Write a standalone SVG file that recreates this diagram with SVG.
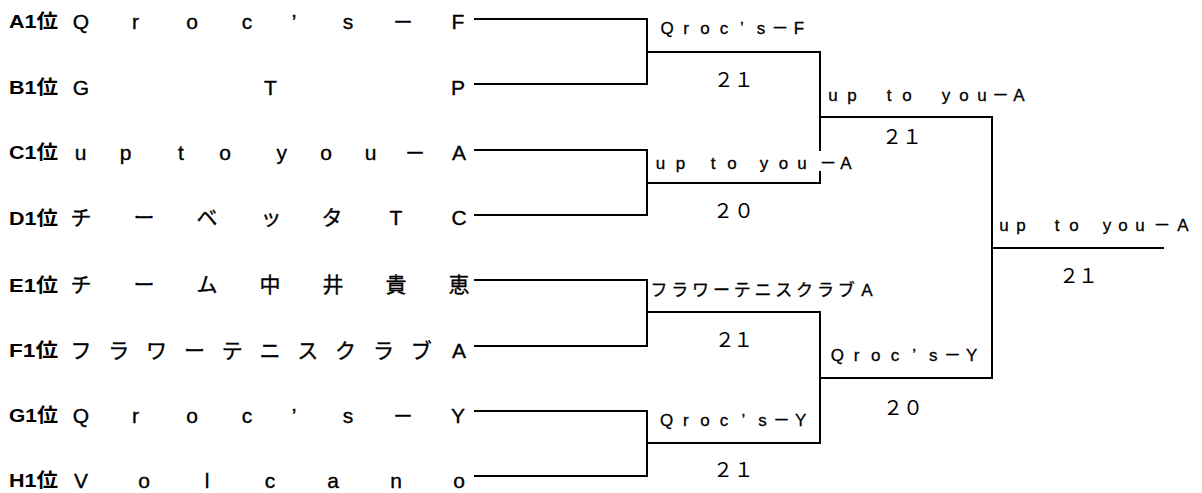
<svg xmlns="http://www.w3.org/2000/svg" width="1202" height="493" viewBox="0 0 1202 493">
<style>
.seed{font-family:"Liberation Sans","Noto Sans CJK JP",sans-serif;font-weight:bold;font-size:19px;fill:#000}
.name{font-family:"Liberation Sans","Noto Sans CJK JP","Noto Sans CJK SC",sans-serif;font-size:21px;fill:#000;stroke:#000;stroke-width:0.35;text-anchor:middle}
.win{font-family:"Liberation Sans","Noto Sans CJK JP","Noto Sans CJK SC",sans-serif;font-size:17px;fill:#000;stroke:#000;stroke-width:0.3;text-anchor:middle}
.score{font-family:"Noto Sans CJK JP","Noto Sans CJK SC",sans-serif;font-size:20px;fill:#000;text-anchor:middle}
.ln{fill:none;stroke:#000;stroke-width:2}
</style>
<rect width="1202" height="493" fill="#fff"/>
<g id="connectors" class="ln">
<path d="M474 19H647V84H474M474 150H647V215H474M474 280H647V346H474M474 411H647V476H474"/>
<path d="M647 52H820V151M820 171V183H647M647 312H820V443H647"/>
<path d="M820 117H992V378H820M992 248H1164"/>
</g>
<g id="team-a"><text class="seed" x="9" y="28" textLength="49" lengthAdjust="spacingAndGlyphs">A1位</text><text class="name" x="81 135.5 192 247 294 348 403 458" y="28.5">Qroc’s－F</text></g>
<g id="team-b"><text class="seed" x="9" y="94" textLength="49" lengthAdjust="spacingAndGlyphs">B1位</text><text class="name" x="81 270.5 458" y="94.5">GTP</text></g>
<g id="team-c"><text class="seed" x="9" y="159" textLength="49" lengthAdjust="spacingAndGlyphs">C1位</text><text class="name" x="80.5 125.5 153 181 225 253 281.7 326 370.5 415 459" y="159.5">up to you－A</text></g>
<g id="team-d"><text class="seed" x="9" y="224.5" textLength="49" lengthAdjust="spacingAndGlyphs">D1位</text><text class="name" x="81 144 207 271 332 396 459" y="225">チーベッタTC</text></g>
<g id="team-e"><text class="seed" x="9" y="291.5" textLength="49" lengthAdjust="spacingAndGlyphs">E1位</text><text class="name" x="81 144 207 270 333 396 459" y="292">チーム中井貴恵</text></g>
<g id="team-f"><text class="seed" x="9" y="357" textLength="49" lengthAdjust="spacingAndGlyphs">F1位</text><text class="name" x="81 118.8 156.6 194.4 232.2 270 307.8 345.6 383.4 421.2 459" y="357.5">フラワーテニスクラブA</text></g>
<g id="team-g"><text class="seed" x="9" y="422" textLength="49" lengthAdjust="spacingAndGlyphs">G1位</text><text class="name" x="81 135.5 192 247 294 348 403 458" y="422.5">Qroc’s－Y</text></g>
<g id="team-h"><text class="seed" x="9" y="487" textLength="49" lengthAdjust="spacingAndGlyphs">H1位</text><text class="name" x="81 144 207 270 333 396 459" y="487.5">Volcano</text></g>
<g id="match-1"><text class="win" x="667 686 705 724 742 761 780 799" y="33.5">Qroc’s－F</text><text class="score" x="723.7 743.7" y="86.5">２１</text></g>
<g id="match-2"><text class="win" x="660.5 680.5 697 713 732 748 764 783.5 802 828 846" y="168.5">up to you－A</text><text class="score" x="723 744" y="217.5">２０</text></g>
<g id="match-3"><text class="win" x="659 679.8 700.6 721.4 742.2 763 783.8 804.6 825.4 846.2 867" y="296">フラワーテニスクラブA</text><text class="score" x="724.7 743.3" y="346.5">２１</text></g>
<g id="match-4"><text class="win" x="666.7 685.8 705 724.1 743.3 762.4 781.5 800.7" y="425.5">Qroc’s－Y</text><text class="score" x="723 743.7" y="476.5">２１</text></g>
<g id="semi-1"><text class="win" x="833 852 871 889 907 926 946 964 982 1000.5 1019" y="100.5">up to you－A</text><text class="score" x="892 912" y="143.5">２１</text></g>
<g id="semi-2"><text class="win" x="837.3 856.5 875.7 894.9 914.1 933.3 952.5 971.7" y="360.5">Qroc’s－Y</text><text class="score" x="893 913" y="414.5">２０</text></g>
<g id="final"><text class="win" x="1004 1021 1039 1057 1074 1090 1107 1123 1140 1162 1183" y="230.5">up to you－A</text><text class="score" x="1069 1088" y="282.5">２１</text></g>
</svg>
